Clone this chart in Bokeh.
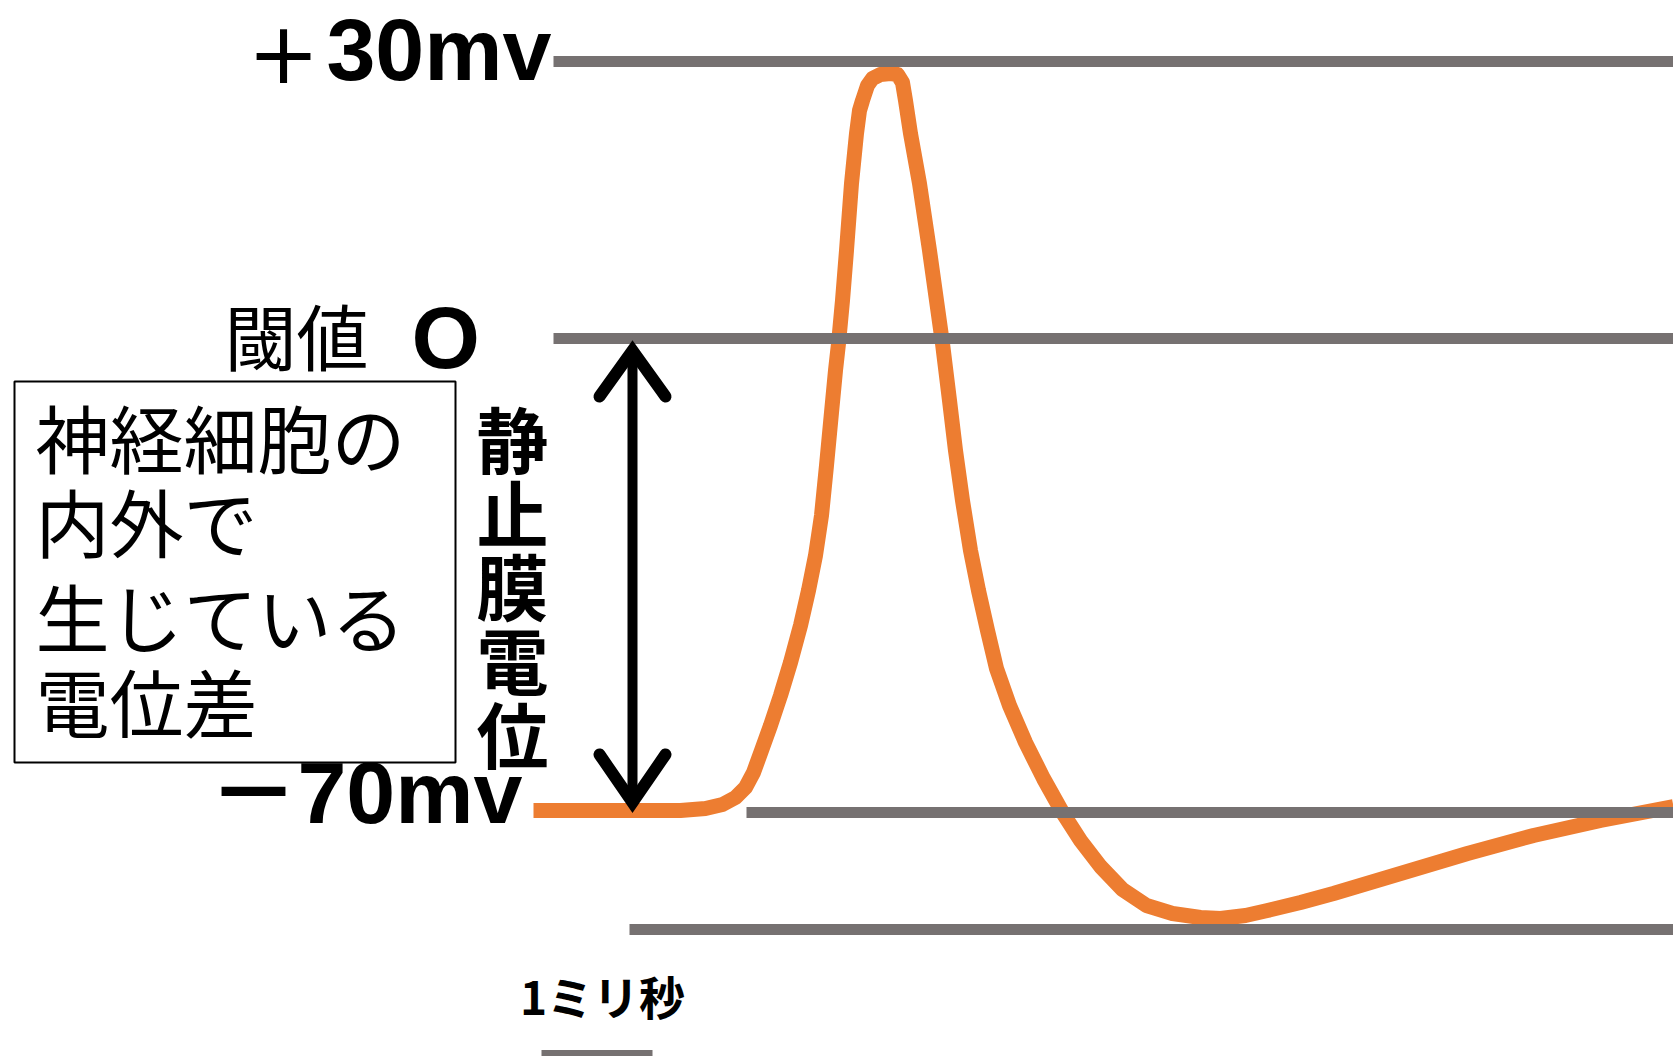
from bokeh.plotting import figure
from bokeh.models import Range1d
from bokeh.core.properties import value
from bokeh.embed import file_html
from bokeh.resources import INLINE

W, H = 1673, 1056
CJK = "Noto Sans CJK JP"
LAT = "Liberation Sans"

# ---- data (picture units: x to the right, y downward) ----
# membrane potential trace
trace_x = [533, 600, 680, 705, 722, 735, 745, 753, 761, 770, 780, 790, 800, 808,
           815, 821, 826, 831, 835, 838, 842, 846, 851, 856, 859, 862, 867, 872,
           880, 890, 897, 902, 905, 910, 919, 929, 936, 942, 949, 955, 962, 970,
           978, 987, 996, 1009, 1025, 1043, 1062, 1080, 1100, 1122, 1146, 1172,
           1200, 1220, 1245, 1267, 1300, 1333, 1400, 1467, 1533, 1600, 1673]
trace_y = [810, 810, 810, 808, 804, 797, 787, 772, 750, 725, 695, 662, 625, 590,
           555, 515, 465, 412, 370, 343, 300, 250, 183, 133, 110, 100, 85, 78,
           74, 73, 74, 82, 100, 133, 183, 250, 300, 343, 400, 450, 500, 550,
           590, 630, 668, 705, 742, 778, 812, 840, 866, 889, 905, 913,
           917, 918, 915, 910, 902, 893, 873, 853, 835, 820, 806]

# reference levels: +30mV, threshold, -70mV (rest), hyperpolarisation
level_y = [61, 338, 812, 929]
level_x0 = [553, 553, 746, 629]
level_x1 = [1673, 1673, 1673, 1673]

# time scale bar (1 ms)
scale_x = [541, 652]
scale_y = 1055

# labels
top_sign, top_value = "+", "30mv"
rest_sign, rest_value = "－", "70mv"
label_thr = "閾値"
label_zero = "O"
box_lines = ["神経細胞の", "内外で", "生じている", "電位差"]
vertical_label = list("静止膜電位")
scale_label = "1ミリ秒"

# ---- figure ----
p = figure(width=W, height=H, x_range=Range1d(0, W), y_range=Range1d(H, 0),
           output_backend="svg", toolbar_location=None, min_border=0,
           x_axis_location=None, y_axis_location=None, outline_line_color=None,
           background_fill_color="white", border_fill_color="white")
p.xgrid.visible = False
p.ygrid.visible = False

ORANGE = "#ED7D31"
GRAY = "#767171"

# orange trace
p.line(trace_x, trace_y, line_color=ORANGE, line_width=15, line_join="round")

# gray level lines
p.segment(x0=level_x0, y0=level_y, x1=level_x1, y1=level_y,
          line_color=GRAY, line_width=11, line_cap="butt")

# scale bar
p.segment(x0=[scale_x[0]], y0=[scale_y], x1=[scale_x[1]], y1=[scale_y],
          line_color=GRAY, line_width=11, line_cap="butt")

# double arrow between threshold and resting level
thr, rest = level_y[1], level_y[2]
ax = 632
p.segment(x0=[ax], y0=[thr + 12], x1=[ax], y1=[rest - 12],
          line_color="black", line_width=10)
p.multi_line(xs=[[ax - 33, ax, ax + 33], [ax - 33, ax, ax + 33]],
             ys=[[thr + 58, thr + 12, thr + 58], [rest - 58, rest - 10, rest - 58]],
             line_color="black", line_width=12, line_join="miter", line_cap="round")

# text box
p.quad(left=[14], right=[455], top=[381], bottom=[762], fill_color="white",
       line_color="black", line_width=2)
p.text(x=[35] * 4, y=[435, 519, 614, 699], text=box_lines,
       text_font=value(CJK), text_font_size="74px", text_align="left",
       text_baseline="middle", text_color="black")

# level labels
p.text(x=[283], y=[51], text=[top_sign], text_font=value("DejaVu Sans"),
       text_font_size="86px", text_align="center",
       text_baseline="middle", text_color="black")
p.text(x=[253], y=[785], text=[rest_sign], text_font=value(CJK),
       text_font_size="90px", text_font_style="bold", text_align="center",
       text_baseline="middle", text_color="black")
p.text(x=[551, 522], y=[49, 792], text=[top_value, rest_value], text_font=value(LAT),
       text_font_size="88px", text_font_style="bold", text_align="right",
       text_baseline="middle", text_color="black")
p.text(x=[224], y=[333], text=[label_thr], text_font=value(CJK),
       text_font_size="72px", text_align="left", text_baseline="middle",
       text_color="black")
p.text(x=[411], y=[337], text=[label_zero], text_font=value(LAT),
       text_font_size="88px", text_font_style="bold", text_align="left",
       text_baseline="middle", text_color="black")

# vertical label
vy = [436 + 73.7 * i for i in range(len(vertical_label))]
p.text(x=[512] * len(vertical_label), y=vy, text=vertical_label,
       text_font=value(CJK), text_font_size="72px", text_font_style="bold",
       text_align="center", text_baseline="middle", text_color="black")

# scale label
p.text(x=[602], y=[994], text=[scale_label], text_font=value(CJK),
       text_font_size="46px", text_font_style="bold", text_align="center",
       text_baseline="middle", text_color="black")

open("out.html", "w").write(file_html(p, INLINE))
